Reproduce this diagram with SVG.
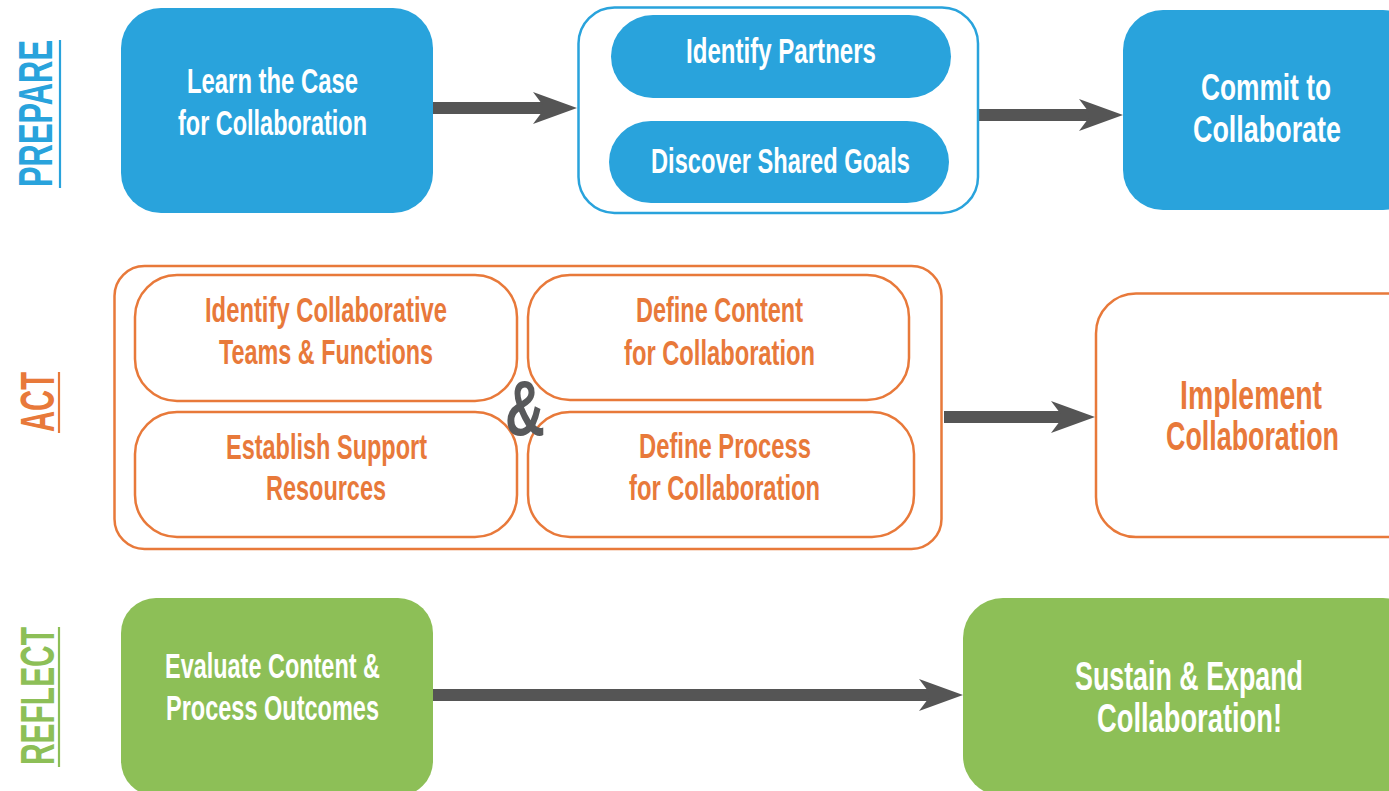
<svg xmlns="http://www.w3.org/2000/svg" width="1389" height="791" viewBox="0 0 1389 791">
<style>
.t{font-family:"Liberation Sans","DejaVu Sans",Arial,sans-serif;font-weight:bold;text-anchor:middle}
.w{fill:#ffffff}
.o{fill:#e8793a}
.blue{fill:#29a3dc}
.green{fill:#8dbf57}
.ob{fill:#ffffff;stroke:#e8793a;stroke-width:2.5}
.bb{fill:#ffffff;stroke:#29a3dc;stroke-width:2.5}
.conn{stroke:#555555;stroke-width:12;fill:none;marker-end:url(#ah)}
</style>
<defs>
<marker id="ah" markerUnits="userSpaceOnUse" markerWidth="44" markerHeight="32" viewBox="0 0 44 32" refX="12" refY="16" orient="auto">
<path d="M0,0 L44,16 L0,32 L12,16 Z" fill="#555555"/>
</marker>
</defs>
<rect width="1389" height="791" fill="#ffffff"/>

<g id="lanes">
<g id="lane-prepare">
<text class="t blue" transform="translate(52,113.5) rotate(-90)" font-size="49" textLength="147" lengthAdjust="spacingAndGlyphs">PREPARE</text>
<line x1="60" y1="40" x2="60" y2="188" stroke="#29a3dc" stroke-width="2.2"/>
</g>
<g id="lane-act">
<text class="t o" transform="translate(54,402) rotate(-90)" font-size="49" textLength="60" lengthAdjust="spacingAndGlyphs">ACT</text>
<line x1="59" y1="372" x2="59" y2="433" stroke="#e8793a" stroke-width="2.2"/>
</g>
<g id="lane-reflect">
<text class="t green" transform="translate(54,696) rotate(-90)" font-size="49" textLength="138" lengthAdjust="spacingAndGlyphs">REFLECT</text>
<line x1="59" y1="627" x2="59" y2="767" stroke="#8dbf57" stroke-width="2.2"/>
</g>
</g>

<g id="connectors">
<line class="conn" x1="433" y1="108" x2="545" y2="108"/>
<line class="conn" x1="978" y1="115" x2="1091" y2="115"/>
<line class="conn" x1="944" y1="417" x2="1063" y2="417"/>
<line class="conn" x1="433" y1="695" x2="931" y2="695"/>
</g>

<g id="learn-case">
<rect class="blue" x="121" y="8" width="312" height="205" rx="40"/>
<text class="t w" x="272.5" y="92.5" font-size="35" textLength="171" lengthAdjust="spacingAndGlyphs">Learn the Case</text>
<text class="t w" x="272.5" y="135" font-size="35" textLength="189" lengthAdjust="spacingAndGlyphs">for Collaboration</text>
</g>

<g id="prepare-group">
<rect class="bb" x="578.5" y="7.5" width="399.5" height="205.5" rx="36"/>
</g>
<g id="identify-partners">
<rect class="blue" x="611" y="15" width="340" height="83" rx="42"/>
<text class="t w" x="781" y="63" font-size="35" textLength="190" lengthAdjust="spacingAndGlyphs">Identify Partners</text>
</g>
<g id="discover-goals">
<rect class="blue" x="609" y="121" width="340" height="82" rx="42"/>
<text class="t w" x="780.5" y="173" font-size="35" textLength="259" lengthAdjust="spacingAndGlyphs">Discover Shared Goals</text>
</g>

<g id="commit">
<rect class="blue" x="1123" y="10" width="300" height="200" rx="40"/>
<text class="t w" x="1266" y="100" font-size="36" textLength="130" lengthAdjust="spacingAndGlyphs">Commit to</text>
<text class="t w" x="1267" y="142" font-size="36" textLength="148" lengthAdjust="spacingAndGlyphs">Collaborate</text>
</g>

<g id="act-group">
<rect class="ob" x="114.5" y="266" width="827" height="283" rx="30"/>
</g>
<g id="identify-teams">
<rect class="ob" x="135" y="275" width="382" height="126" rx="42"/>
<text class="t o" x="326" y="322" font-size="35" textLength="242" lengthAdjust="spacingAndGlyphs">Identify Collaborative</text>
<text class="t o" x="326" y="364" font-size="35" textLength="214" lengthAdjust="spacingAndGlyphs">Teams &amp; Functions</text>
</g>
<g id="define-content">
<rect class="ob" x="528" y="275" width="381" height="125" rx="42"/>
<text class="t o" x="719.5" y="322" font-size="35" textLength="167" lengthAdjust="spacingAndGlyphs">Define Content</text>
<text class="t o" x="719.5" y="365" font-size="35" textLength="191" lengthAdjust="spacingAndGlyphs">for Collaboration</text>
</g>
<g id="establish-support">
<rect class="ob" x="135" y="412" width="382" height="125" rx="42"/>
<text class="t o" x="326.5" y="459" font-size="35" textLength="201" lengthAdjust="spacingAndGlyphs">Establish Support</text>
<text class="t o" x="326" y="500" font-size="35" textLength="120" lengthAdjust="spacingAndGlyphs">Resources</text>
</g>
<g id="define-process">
<rect class="ob" x="528" y="412" width="386" height="125" rx="42"/>
<text class="t o" x="725" y="458" font-size="35" textLength="172" lengthAdjust="spacingAndGlyphs">Define Process</text>
<text class="t o" x="724.5" y="500" font-size="35" textLength="191" lengthAdjust="spacingAndGlyphs">for Collaboration</text>
</g>
<g id="ampersand">
<text class="t" x="525" y="435" font-size="78" fill="#58595b" textLength="40" lengthAdjust="spacingAndGlyphs">&amp;</text>
</g>

<g id="implement">
<rect class="ob" x="1096" y="293.5" width="330" height="243.5" rx="40"/>
<text class="t o" x="1251" y="409" font-size="40" textLength="142" lengthAdjust="spacingAndGlyphs">Implement</text>
<text class="t o" x="1252.5" y="450" font-size="40" textLength="173" lengthAdjust="spacingAndGlyphs">Collaboration</text>
</g>

<g id="evaluate">
<rect class="green" x="121" y="598" width="312" height="198" rx="35"/>
<text class="t w" x="272.5" y="678" font-size="35" textLength="215" lengthAdjust="spacingAndGlyphs">Evaluate Content &amp;</text>
<text class="t w" x="272.5" y="720" font-size="35" textLength="213" lengthAdjust="spacingAndGlyphs">Process Outcomes</text>
</g>

<g id="sustain">
<rect class="green" x="963" y="598" width="460" height="198" rx="40"/>
<text class="t w" x="1189" y="690" font-size="40" textLength="228" lengthAdjust="spacingAndGlyphs">Sustain &amp; Expand</text>
<text class="t w" x="1189.5" y="732" font-size="40" textLength="185" lengthAdjust="spacingAndGlyphs">Collaboration!</text>
</g>
</svg>
